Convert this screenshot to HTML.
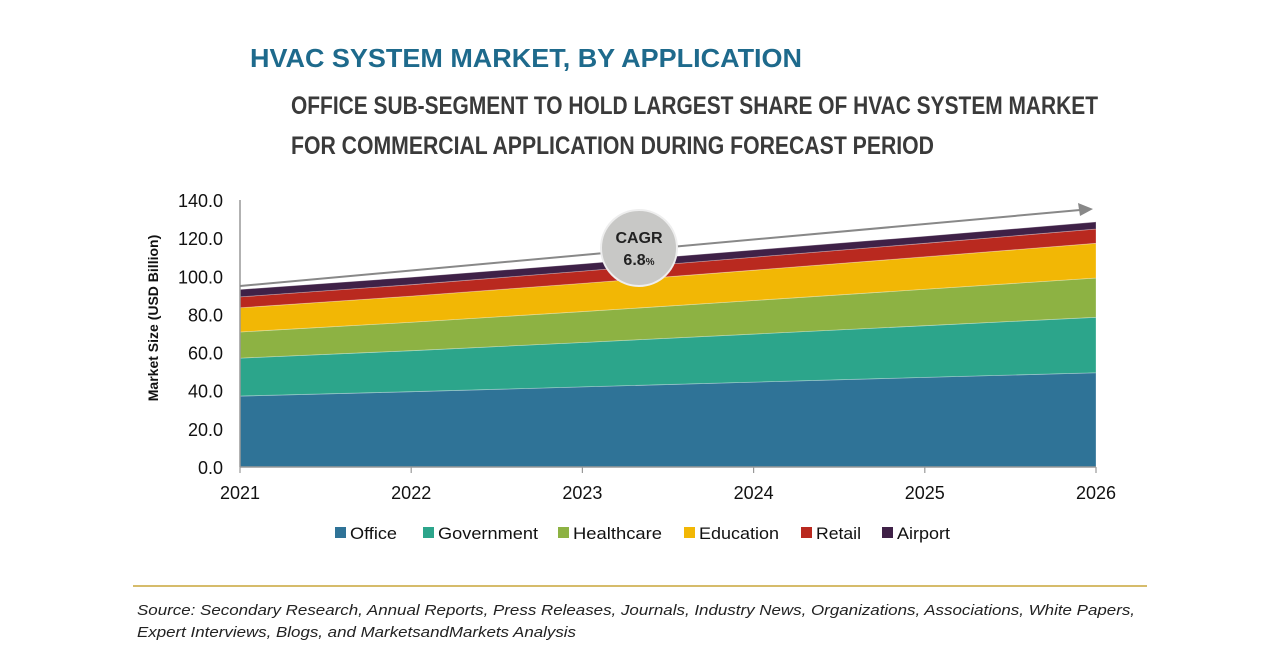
<!DOCTYPE html>
<html><head><meta charset="utf-8"><style>
html,body{margin:0;padding:0;background:#fff;}
svg{display:block;font-family:"Liberation Sans",Arial,sans-serif;}
</style></head><body>
<svg id="chart" width="1280" height="670" viewBox="0 0 1280 670">
<text x="250" y="67" font-size="26" font-weight="bold" fill="#1e6a8c" textLength="552" lengthAdjust="spacingAndGlyphs">HVAC SYSTEM MARKET, BY APPLICATION</text>
<text x="291" y="114" font-size="25" font-weight="bold" fill="#3a3a3a" textLength="807" lengthAdjust="spacingAndGlyphs">OFFICE SUB-SEGMENT TO HOLD LARGEST SHARE OF HVAC SYSTEM MARKET</text>
<text x="291" y="154" font-size="25" font-weight="bold" fill="#3a3a3a" textLength="643" lengthAdjust="spacingAndGlyphs">FOR COMMERCIAL APPLICATION DURING FORECAST PERIOD</text>
<g id="plot"></g>
<text transform="translate(158,318) rotate(-90)" text-anchor="middle" font-size="14" font-weight="bold" fill="#111">Market Size (USD Billion)</text>
<g id="legend"></g>
<line x1="133" y1="586" x2="1147" y2="586" stroke="#c9a53a" stroke-width="1.5"/>
<text x="137" y="615" font-size="15" font-style="italic" fill="#222" textLength="998" lengthAdjust="spacingAndGlyphs">Source: Secondary Research, Annual Reports, Press Releases, Journals, Industry News, Organizations, Associations, White Papers,</text>
<text x="137" y="637" font-size="15" font-style="italic" fill="#222" textLength="439" lengthAdjust="spacingAndGlyphs">Expert Interviews, Blogs, and MarketsandMarkets Analysis</text>
</svg>
<script>
const years = ["2021","2022","2023","2024","2025","2026"];
const seriesNames = ["Office","Government","Healthcare","Education","Retail","Airport"];
const office = [37.2, 39.5, 42.0, 44.5, 47.0, 49.4];
const government = [19.9, 21.5, 23.3, 25.2, 27.1, 29.1];
const healthcare = [13.7, 14.9, 16.2, 17.6, 19.1, 20.6];
const education = [12.7, 13.7, 14.8, 15.9, 17.0, 18.2];
const retail = [5.7, 6.0, 6.4, 6.8, 7.1, 7.5];
const airport = [3.9, 3.9, 3.8, 3.8, 3.7, 3.7];
const yTicks = [0,20,40,60,80,100,120,140];
const colors = ["#2f7397","#2ca58b","#8db243","#f2b705","#b9291f","#3f2147"];
const series = [office, government, healthcare, education, retail, airport];

const NS="http://www.w3.org/2000/svg";
const X0=240, X1=1096, Y0=467, Y1=200, YMAX=140;
const x = i => X0 + (X1-X0)*i/(years.length-1);
const y = v => Y0 - (Y0-Y1)*v/YMAX;
const plot=document.getElementById('plot');
function mk(tag, attrs, parent){const e=document.createElementNS(NS,tag);for(const k in attrs)e.setAttribute(k,attrs[k]);(parent||plot).appendChild(e);return e;}

let base = years.map(()=>0);
series.forEach((s,si)=>{
  const top = base.map((b,i)=>b+s[i]);
  let d = "M"+top.map((v,i)=>x(i)+","+y(v)).join(" L");
  for(let i=years.length-1;i>=0;i--) d += " L"+x(i)+","+y(base[i]);
  const p = mk('path',{d:d+"Z",fill:colors[si],stroke:"rgba(255,255,255,0.35)","stroke-width":"0.8"});
  
  
  base = top;
});
const ya = mk('line',{x1:X0,y1:Y1,x2:X0,y2:Y0,stroke:"#999","stroke-width":"1.5"});


const xa = mk('line',{x1:X0,y1:Y0,x2:X1,y2:Y0,stroke:"#999","stroke-width":"1.5"});


yTicks.forEach(t=>{
  const tx = mk('text',{x:223,y:y(t)+7,"text-anchor":"end","font-size":"18",fill:"#111"});
  tx.textContent=t.toFixed(1);
  
  
});
years.forEach((yr,i)=>{
  mk('line',{x1:x(i),y1:Y0,x2:x(i),y2:Y0+6,stroke:"#999","stroke-width":"1.2"});
  const tx = mk('text',{x:x(i),y:499,"text-anchor":"middle","font-size":"18",fill:"#111"});
  tx.textContent=yr;
  
  
});
const ar = mk('line',{x1:240,y1:286,x2:1080,y2:210,stroke:"#888","stroke-width":"2"});


mk('polygon',{points:"1093,209 1078,203 1080,216",fill:"#888"});
const c = mk('circle',{cx:639,cy:248,r:38,fill:"#c8c8c6",stroke:"#eee","stroke-width":"2"});


const t1 = mk('text',{x:639,y:243,"text-anchor":"middle","font-size":"16","font-weight":"bold",fill:"#222"});
t1.textContent="CAGR";


const t2 = mk('text',{x:639,y:265,"text-anchor":"middle","font-size":"16","font-weight":"bold",fill:"#222"});
t2.innerHTML='6.8<tspan font-size="10">%</tspan>';


const leg=document.getElementById('legend');
const legX=[335,423,558,684,801,882];
const legW=[47,100,89,80,45,53];
seriesNames.forEach((n,i)=>{
  const g=mk('g',{},leg);
  
  
  mk('rect',{x:legX[i],y:527,width:11,height:11,fill:colors[i]},g);
  const tx=mk('text',{x:legX[i]+15,y:539,"font-size":"17",fill:"#111",textLength:legW[i],lengthAdjust:"spacingAndGlyphs"},g);
  tx.textContent=n;
});
</script>
</body></html>
